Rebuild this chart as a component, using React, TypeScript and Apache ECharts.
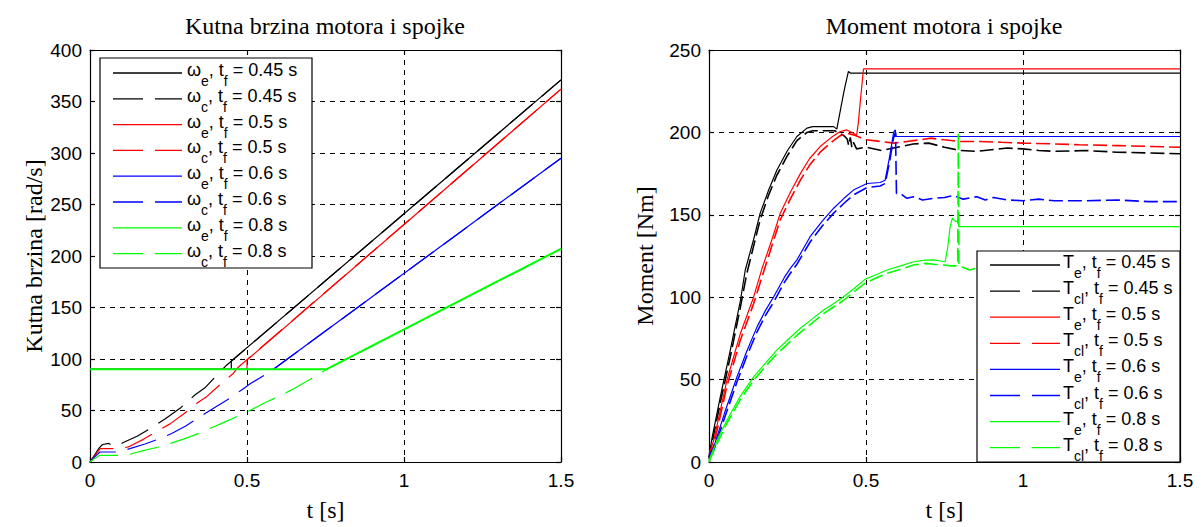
import React, { useEffect, useRef } from 'react';
import * as echarts from 'echarts';

// ---------- tick labels ----------
const xTickValues = [0, 0.5, 1, 1.5];
const xTickLabels = ['0', '0.5', '1', '1.5'];

// ---------- left: angular speed (t [s], rad/s) ----------
const speedWe045 = [[0, 90], [0.45, 90], [0.45, 98], [1.5, 371]];
const speedWc045 = [[0, 0], [0.015, 7], [0.03, 14], [0.04, 17], [0.06, 18], [0.075, 15.5], [0.09, 16], [0.106, 19], [0.15, 25], [0.2, 34], [0.24, 42], [0.29, 53], [0.334, 65], [0.366, 72], [0.4, 83], [0.435, 94], [1.5, 371]];
const speedWe05 = [[0, 90], [0.5, 90], [0.5, 99], [1.5, 362]];
const speedWc05 = [[0, 0], [0.015, 6], [0.032, 13], [0.09, 13], [0.122, 14.6], [0.17, 22], [0.218, 30.8], [0.255, 37], [0.3, 47], [0.345, 58], [0.37, 63], [0.41, 74], [0.456, 86], [0.472, 92], [1.5, 362]];
const speedWe06 = [[0, 90], [0.584, 90], [1.5, 295]];
const speedWc06 = [[0, 0], [0.015, 5], [0.032, 9.7], [0.09, 9.7], [0.127, 13], [0.175, 17.5], [0.223, 22.8], [0.26, 27.6], [0.305, 35], [0.35, 43.8], [0.387, 51], [0.435, 60], [0.483, 70], [0.51, 76], [0.56, 85], [0.584, 90], [1.5, 295]];
const speedWe08 = [[0, 90], [0.755, 90], [0.759, 91], [1.5, 207]];
const speedWc08 = [[0, 0], [0.015, 3.5], [0.032, 6.5], [0.09, 6.5], [0.127, 7.5], [0.17, 11], [0.218, 14.6], [0.255, 18], [0.3, 22.5], [0.345, 27.6], [0.382, 32.5], [0.43, 39], [0.478, 45.4], [0.515, 51], [0.56, 58], [0.61, 65], [0.642, 70], [0.7, 80], [0.759, 91], [1.5, 207]];

// ---------- right: torque (t [s], Nm) ----------
const torqueTe045 = [[0, 3], [0.01, 15], [0.036, 39.5], [0.068, 68], [0.1, 98], [0.1155, 116.5], [0.142, 135], [0.163, 151], [0.19, 165], [0.216, 177], [0.25, 189], [0.28, 197.5], [0.312, 202.6], [0.33, 203.5], [0.397, 203.5], [0.407, 202], [0.415, 210], [0.43, 225], [0.444, 237], [0.45, 236], [1.5, 236]];
const torqueTc045 = [[0, 2], [0.01, 12], [0.036, 36], [0.068, 64], [0.1, 94], [0.12, 114], [0.142, 131], [0.163, 147], [0.19, 162], [0.216, 174], [0.25, 186], [0.28, 195], [0.312, 200], [0.33, 201], [0.4, 201], [0.42, 199], [0.43, 198], [0.44, 196], [0.445, 192], [0.45, 197], [0.455, 191], [0.46, 194], [0.47, 190], [0.5, 191], [0.55, 189], [0.6, 191], [0.65, 193], [0.7, 193.5], [0.75, 191], [0.8, 189], [0.85, 188.5], [0.9, 189.5], [0.95, 190.5], [1, 190], [1.05, 189], [1.1, 188.5], [1.2, 189], [1.3, 188], [1.4, 187.5], [1.5, 187]];
const torqueTe05 = [[0, 5], [0.015, 13], [0.057, 49.6], [0.1, 78], [0.142, 100], [0.169, 117.5], [0.2, 134.7], [0.227, 151], [0.26, 164], [0.291, 175], [0.32, 184], [0.354, 191.4], [0.39, 197], [0.418, 200.5], [0.439, 201.5], [0.46, 199.5], [0.47, 198], [0.475, 205], [0.485, 225], [0.492, 238.5], [1.5, 238.5]];
const torqueTc05 = [[0, 3], [0.015, 10], [0.057, 46], [0.1, 74], [0.142, 96], [0.17, 113], [0.2, 131], [0.227, 147], [0.26, 160], [0.291, 171], [0.32, 180], [0.354, 188], [0.39, 194], [0.418, 198], [0.44, 199.5], [0.46, 198.5], [0.48, 197], [0.5, 195.5], [0.545, 194.5], [0.59, 193.5], [0.63, 194.5], [0.672, 195.5], [0.704, 196.5], [0.75, 195.5], [0.8, 194.5], [0.863, 194.5], [0.93, 194], [1, 193.5], [1.1, 193], [1.18, 192.5], [1.3, 192], [1.4, 191.5], [1.5, 191]];
const torqueTe06 = [[0, 4], [0.015, 9], [0.05, 30], [0.089, 51.6], [0.12, 67], [0.153, 82], [0.18, 92], [0.206, 100.3], [0.24, 112], [0.259, 117.5], [0.28, 122.6], [0.322, 136.7], [0.36, 146], [0.397, 154], [0.43, 160], [0.46, 165], [0.503, 169], [0.545, 169.6], [0.561, 171], [0.575, 185], [0.588, 200], [0.593, 201.6], [0.596, 197.5], [1.5, 197.5]];
const torqueTc06 = [[0, 3], [0.015, 7], [0.05, 27], [0.089, 48.5], [0.12, 64], [0.153, 79], [0.18, 89], [0.206, 97], [0.24, 109], [0.259, 114.5], [0.28, 120], [0.322, 133.5], [0.36, 143], [0.397, 151], [0.43, 157], [0.46, 162], [0.503, 166.5], [0.545, 167.5], [0.561, 169], [0.575, 182], [0.588, 197], [0.594, 200], [0.597, 163], [0.609, 163], [0.63, 160], [0.651, 161], [0.68, 159], [0.715, 160], [0.75, 160.5], [0.779, 161.7], [0.81, 159.5], [0.853, 161], [0.88, 159], [0.906, 160.5], [0.95, 159], [1, 158.5], [1.05, 159.5], [1.1, 158.5], [1.2, 158.5], [1.3, 159], [1.4, 158], [1.5, 158]];
const torqueTe08 = [[0, 0], [0.004, 3], [0.03, 15], [0.057, 25.3], [0.1, 40], [0.142, 51.6], [0.18, 60], [0.216, 67.9], [0.25, 74], [0.29, 81], [0.33, 87], [0.365, 92.2], [0.4, 96.5], [0.428, 100.3], [0.46, 105], [0.497, 110.8], [0.53, 113.5], [0.567, 116.5], [0.61, 119], [0.651, 121.5], [0.69, 122.5], [0.715, 122.6], [0.752, 121.5], [0.76, 130], [0.768, 143], [0.775, 148], [0.785, 146], [0.794, 146], [0.795, 142.8], [1.5, 142.8]];
const torqueTc08 = [[0, 0], [0.004, 2], [0.03, 13], [0.057, 23.5], [0.1, 38], [0.142, 49.5], [0.18, 58], [0.216, 65.5], [0.25, 71.5], [0.29, 78.5], [0.33, 84.5], [0.365, 90], [0.4, 94.5], [0.428, 98], [0.46, 103], [0.497, 108.5], [0.53, 111.5], [0.567, 114.5], [0.61, 117], [0.651, 119.5], [0.69, 120.5], [0.715, 120], [0.75, 119.5], [0.77, 119], [0.792, 119], [0.794, 200], [0.796, 119], [0.81, 118], [0.83, 116.5], [0.85, 117.5], [0.9, 116], [1, 115.5], [1.2, 115], [1.5, 114.5]];

const finalTimes = ['0.45', '0.5', '0.6', '0.8'];
const lineColors = ['#000000', '#ff0000', '#0000ff', '#00ff00'];

const speedEngine = [speedWe045, speedWe05, speedWe06, speedWe08];
const speedClutch = [speedWc045, speedWc05, speedWc06, speedWc08];
const torqueEngine = [torqueTe045, torqueTe05, torqueTe06, torqueTe08];
const torqueClutch = [torqueTc045, torqueTc05, torqueTc06, torqueTc08];

const SANS = 'Liberation Sans';
const SERIF = 'Liberation Serif';
const LEGEND_DASH = [30, 12];

function richLabel(sym: string, sub: string, tf: string) {
  return `{m|${sym}}{s|${sub}}{m|, t}{s|f}{m| = ${tf} s}`;
}

const richStyles = {
  m: { fill: '#000', fontFamily: SANS, fontSize: 18, lineHeight: 18, verticalAlign: 'middle' },
  s: { fill: '#000', fontFamily: SANS, fontSize: 14, lineHeight: 18, padding: [22, 0, 0, 0], verticalAlign: 'middle' },
};

function buildLegend(
  box: { x: number; y: number; w: number; h: number },
  row0: number, rowStep: number, lineX1: number, lineX2: number, textX: number,
  entries: { label: string; color: string; dashed: boolean }[],
) {
  const els: any[] = [
    { type: 'rect', z: 100, shape: { x: box.x, y: box.y, width: box.w, height: box.h }, style: { fill: '#fff', stroke: '#000', lineWidth: 1.2 } },
  ];
  entries.forEach((e, i) => {
    const cy = row0 + i * rowStep;
    els.push({ type: 'line', z: 101, shape: { x1: lineX1, y1: cy, x2: lineX2, y2: cy }, style: { stroke: e.color, lineWidth: 1.3, lineDash: e.dashed ? LEGEND_DASH : null } });
    els.push({ type: 'text', z: 101, x: textX, y: cy - 3, style: { text: e.label, fill: '#000', fontFamily: SANS, fontSize: 18, verticalAlign: 'middle', align: 'left', rich: richStyles } });
  });
  return els;
}

export default function App() {
  const ref = useRef<HTMLDivElement>(null);
  useEffect(() => {
    if (!ref.current) return;
    const chart = echarts.init(ref.current, undefined, { renderer: 'svg' });

    const series: any[] = [];
    const leftEntries: any[] = [];
    const rightEntries: any[] = [];

    finalTimes.forEach((tf, i) => {
      const c = lineColors[i];
      const last = i === finalTimes.length - 1;
      series.push({ name: `ω_e, t_f = ${tf} s`, type: 'line', xAxisIndex: 0, yAxisIndex: 0, data: speedEngine[i], symbol: 'none', lineStyle: { color: c, width: last ? 2 : 1.2, type: 'solid' }, itemStyle: { color: c } });
      series.push({ name: `ω_c, t_f = ${tf} s`, type: 'line', xAxisIndex: 0, yAxisIndex: 0, data: speedClutch[i], symbol: 'none', lineStyle: { color: c, width: 1.2, type: [30, 12] }, itemStyle: { color: c } });
      series.push({ name: `T_e, t_f = ${tf} s`, type: 'line', xAxisIndex: 2, yAxisIndex: 2, data: torqueEngine[i], symbol: 'none', lineStyle: { color: c, width: 1.2, type: 'solid' }, itemStyle: { color: c } });
      series.push({ name: `T_cl, t_f = ${tf} s`, type: 'line', xAxisIndex: 2, yAxisIndex: 2, data: torqueClutch[i], symbol: 'none', lineStyle: { color: c, width: 1.6, type: [14, 5] }, itemStyle: { color: c } });
      leftEntries.push({ label: richLabel('ω', 'e', tf), color: c, dashed: false });
      leftEntries.push({ label: richLabel('ω', 'c', tf), color: c, dashed: true });
      rightEntries.push({ label: richLabel('T', 'e', tf), color: c, dashed: false });
      rightEntries.push({ label: richLabel('T', 'cl', tf), color: c, dashed: true });
    });

    const grids = [
      { left: 90, top: 50, width: 471, height: 412 },
      { left: 709, top: 50, width: 471, height: 412 },
    ];

    const axisLineStyle = { color: '#000', width: 1.2 };
    const tickLabelStyle = { color: '#000', fontFamily: SANS, fontSize: 19 };
    const splitStyle = { show: true, lineStyle: { color: '#000', width: 1, type: [5, 5] } };
    const fmtX = (v: number) => {
      const idx = xTickValues.findIndex((x) => Math.abs(x - v) < 1e-9);
      return idx >= 0 ? xTickLabels[idx] : '';
    };

    const makeX = (gi: number) => [
      {
        type: 'value', gridIndex: gi, min: 0, max: 1.5, interval: 0.5, position: 'bottom',
        axisLine: { show: true, onZero: false, lineStyle: axisLineStyle },
        axisTick: { show: true, inside: true, length: 5, lineStyle: axisLineStyle },
        axisLabel: { ...tickLabelStyle, margin: 9, formatter: fmtX },
        splitLine: splitStyle,
        name: 't [s]', nameLocation: 'middle', nameGap: 36,
        nameTextStyle: { color: '#000', fontFamily: SERIF, fontSize: 24 },
      },
      {
        type: 'value', gridIndex: gi, min: 0, max: 1.5, interval: 0.5, position: 'top',
        axisLine: { show: true, onZero: false, lineStyle: axisLineStyle },
        axisTick: { show: true, inside: true, length: 5, lineStyle: axisLineStyle },
        axisLabel: { show: false },
        splitLine: { show: false },
      },
    ];
    const makeY = (gi: number, max: number, name: string, gap: number) => [
      {
        type: 'value', gridIndex: gi, min: 0, max, interval: 50, position: 'left',
        axisLine: { show: true, onZero: false, lineStyle: axisLineStyle },
        axisTick: { show: true, inside: true, length: 5, lineStyle: axisLineStyle },
        axisLabel: { ...tickLabelStyle, margin: 8 },
        splitLine: splitStyle,
        name, nameLocation: 'middle', nameGap: gap,
        nameTextStyle: { color: '#000', fontFamily: SERIF, fontSize: 24 },
      },
      {
        type: 'value', gridIndex: gi, min: 0, max, interval: 50, position: 'right',
        axisLine: { show: true, onZero: false, lineStyle: axisLineStyle },
        axisTick: { show: true, inside: true, length: 5, lineStyle: axisLineStyle },
        axisLabel: { show: false },
        splitLine: { show: false },
      },
    ];

    const graphics = [
      ...buildLegend({ x: 100, y: 58, w: 212, h: 210 }, 73, 25.8, 113, 182, 187, leftEntries),
      ...buildLegend({ x: 977, y: 251, w: 203, h: 211 }, 265, 26.1, 990, 1060, 1063, rightEntries),
    ];

    chart.setOption({
      animation: false,
      backgroundColor: '#fff',
      title: [
        { text: 'Kutna brzina motora i spojke', left: 325, top: 14, textAlign: 'center', padding: 0, textStyle: { color: '#000', fontFamily: SERIF, fontSize: 24, fontWeight: 'normal' } },
        { text: 'Moment motora i spojke', left: 944, top: 14, textAlign: 'center', padding: 0, textStyle: { color: '#000', fontFamily: SERIF, fontSize: 24, fontWeight: 'normal' } },
      ],
      grid: grids,
      xAxis: [...makeX(0), ...makeX(1)],
      yAxis: [...makeY(0, 400, 'Kutna brzina [rad/s]', 44), ...makeY(1, 250, 'Moment [Nm]', 52)],
      graphic: graphics,
      series,
    });
    return () => chart.dispose();
  }, []);
  return <div ref={ref} style={{ position: 'fixed', left: 0, top: 0, width: 1202, height: 527 }} />;
}
